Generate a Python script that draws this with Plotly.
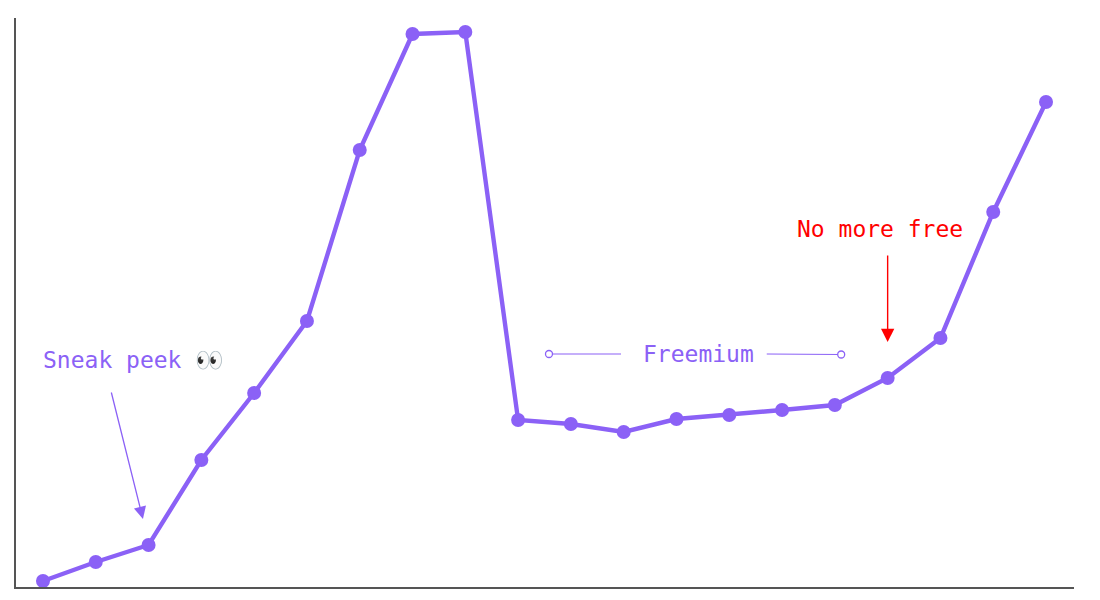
import plotly.graph_objects as go

periods = list(range(20))
values = [6.5, 25.5, 42.5, 127.5, 194.5, 266.5, 437.5, 553.5, 555.5, 167.5,
          163.5, 155.5, 168.5, 172.5, 177.5, 182.5, 209.5, 249.5, 375.5, 485.5]
PURPLE = "#8B61F6"
RED = "#FF0000"
MONO = "DejaVu Sans Mono, Liberation Mono, monospace"

fig = go.Figure()
fig.add_trace(go.Scatter(x=periods, y=values, mode="lines+markers",
                         line=dict(color=PURPLE, width=4.4),
                         marker=dict(color=PURPLE, size=14),
                         hoverinfo="skip", showlegend=False))
fig.add_trace(go.Scatter(x=[9.585, 10.95], y=[233.5, 233.5], mode="lines",
                         line=dict(color=PURPLE, width=1.2), showlegend=False, hoverinfo="skip"))
fig.add_trace(go.Scatter(x=[13.71, 15.12], y=[233.5, 233], mode="lines",
                         line=dict(color=PURPLE, width=1.2), showlegend=False, hoverinfo="skip"))
fig.add_trace(go.Scatter(x=[9.585, 15.12], y=[233.5, 233], mode="markers",
                         marker=dict(color="white", size=7, line=dict(color=PURPLE, width=1.3)),
                         showlegend=False, hoverinfo="skip"))

def label(text, x, y, color, anchor):
    fig.add_annotation(x=x, y=y, text=text, showarrow=False, xanchor=anchor, yanchor="middle",
                       font=dict(family=MONO, size=23, color=color))

def arrow(x0, y0, x1, y1, color, width):
    fig.add_annotation(x=x1, y=y1, ax=x0, ay=y0, xref="x", yref="y", axref="x", ayref="y",
                       text="", showarrow=True, arrowhead=2, arrowsize=1.9,
                       arrowwidth=width, arrowcolor=color)

label("Sneak peek 👀", -0.04, 227.5, PURPLE, "left")
label("Freemium", 12.41, 233.5, PURPLE, "center")
label("No more free", 15.86, 358.5, RED, "center")
arrow(1.288, 196.5, 1.894, 68.5, PURPLE, 1.3)
arrow(16, 333.5, 16, 245.5, RED, 1.4)

fig.update_layout(width=1100, height=600, margin=dict(l=16, r=26, t=18, b=13),
                  paper_bgcolor="white", plot_bgcolor="white", showlegend=False,
                  xaxis=dict(range=[-0.511, 19.53], showgrid=False, zeroline=False, showticklabels=False,
                             ticks="", showline=True, linecolor="#555555", linewidth=2),
                  yaxis=dict(range=[0.5, 569.5], showgrid=False, zeroline=False, showticklabels=False,
                             ticks="", showline=True, linecolor="#555555", linewidth=2))
fig.write_html("out.html", config={"displayModeBar": False},
               post_script="document.body.style.margin='0';document.body.style.overflow='hidden';")
